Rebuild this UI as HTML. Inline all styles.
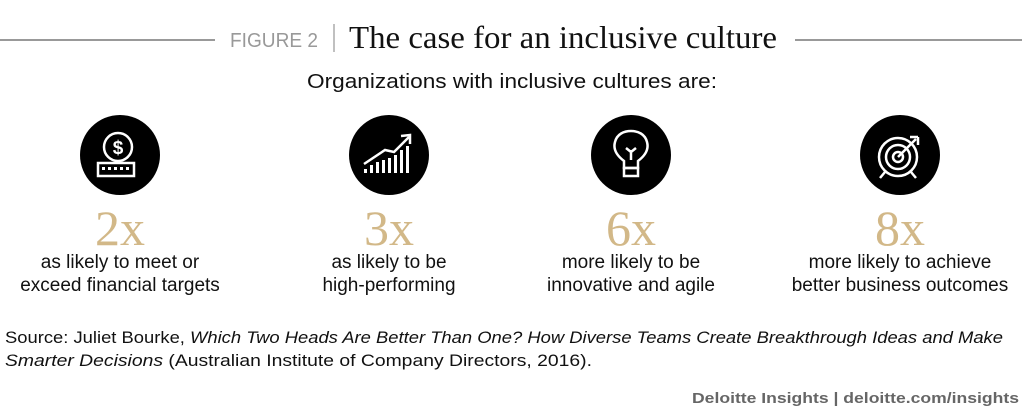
<!DOCTYPE html>
<html><head><meta charset="utf-8"><style>
html,body{margin:0;padding:0;background:#fff;}
svg{display:block}
text{font-family:"Liberation Sans",sans-serif;}
.s{font-family:"Liberation Serif",serif;}
</style></head><body>
<svg width="1024" height="408" viewBox="0 0 1024 408">
<line x1="0" y1="40" x2="215" y2="40" stroke="#999" stroke-width="2"/>
<line x1="795" y1="40" x2="1022" y2="40" stroke="#999" stroke-width="2"/>
<text x="230" y="47" font-size="20" fill="#999" textLength="88" lengthAdjust="spacingAndGlyphs">FIGURE 2</text>
<line x1="334" y1="24" x2="334" y2="52" stroke="#aaa" stroke-width="1.5"/>
<text class="s" x="349" y="48" font-size="32" fill="#111" textLength="428" lengthAdjust="spacingAndGlyphs">The case for an inclusive culture</text>
<text x="307" y="88" font-size="20" fill="#111" textLength="410" lengthAdjust="spacingAndGlyphs">Organizations with inclusive cultures are:</text>

<g fill="#000"><circle cx="120" cy="155" r="40"/><circle cx="389" cy="155" r="40"/><circle cx="631" cy="155" r="40"/><circle cx="900" cy="155" r="40"/></g>
<!-- coin icon -->
<g stroke="#fff" stroke-width="2.5" fill="none">
<circle cx="118" cy="147" r="14"/>
<rect x="98" y="163" width="36" height="13"/>
</g>
<g fill="#fff"><rect x="102" y="167" width="3" height="3"/><rect x="108" y="167" width="3" height="3"/><rect x="114" y="167" width="3" height="3"/><rect x="120" y="167" width="3" height="3"/><rect x="126" y="167" width="3" height="3"/></g>
<text x="118" y="154" font-size="19" fill="#fff" text-anchor="middle" font-weight="bold">$</text>
<!-- chart icon -->
<g fill="#fff"><rect x="364" y="169" width="3" height="4"/><rect x="370" y="165" width="3" height="8"/><rect x="376" y="162" width="3" height="11"/><rect x="382" y="160" width="3" height="13"/><rect x="388" y="158" width="3" height="15"/><rect x="394" y="155" width="3" height="18"/><rect x="400" y="150" width="3" height="23"/><rect x="406" y="146" width="3" height="27"/></g>
<polyline points="364,164 385,150 394,152 409,137" stroke="#fff" stroke-width="2.5" fill="none"/>
<polyline points="401,136 410,135 410,144" stroke="#fff" stroke-width="2.5" fill="none"/>
<!-- bulb -->
<g stroke="#fff" stroke-width="2.5" fill="none">
<path d="M624,168 L624,161 C616,155 613,149 615,142 C617,134 624,131 631,131 C638,131 645,134 647,142 C649,149 646,155 638,161 L638,168 Z"/>
<rect x="624" y="168" width="14" height="8"/>
<path d="M631,160 L631,150 M626,148 L631,152 L636,148"/>
</g>
<!-- target -->
<g stroke="#fff" stroke-width="2.5" fill="none">
<circle cx="898" cy="157" r="19"/><circle cx="898" cy="157" r="12"/><circle cx="898" cy="157" r="5"/>
<path d="M898,157 L916,139 M910,137 L918,137 M918,137 L918,145 M885,172 L880,178 M911,172 L916,178"/>
</g>

<g font-size="50" fill="#d2b888" text-anchor="middle">
<text class="s" x="120" y="245">2x</text><text class="s" x="389" y="245">3x</text><text class="s" x="631" y="245">6x</text><text class="s" x="900" y="245">8x</text>
</g>
<g font-size="19" fill="#111" text-anchor="middle">
<text x="120" y="268">as likely to meet or</text>
<text x="120" y="291">exceed financial targets</text>
<text x="389" y="268">as likely to be</text>
<text x="389" y="291">high-performing</text>
<text x="631" y="268">more likely to be</text>
<text x="631" y="291">innovative and agile</text>
<text x="900" y="268">more likely to achieve</text>
<text x="900" y="291">better business outcomes</text>
</g>
<text x="5" y="343" font-size="17" fill="#111" textLength="998" lengthAdjust="spacingAndGlyphs">Source: Juliet Bourke, <tspan font-style="italic">Which Two Heads Are Better Than One? How Diverse Teams Create Breakthrough Ideas and Make</tspan></text>
<text x="5" y="366" font-size="17" fill="#111" textLength="587" lengthAdjust="spacingAndGlyphs"><tspan font-style="italic">Smarter Decisions</tspan> (Australian Institute of Company Directors, 2016).</text>
<text x="692" y="403" font-size="15" font-weight="bold" fill="#666" textLength="327" lengthAdjust="spacingAndGlyphs">Deloitte Insights | deloitte.com/insights</text>
</svg>
</body></html>
